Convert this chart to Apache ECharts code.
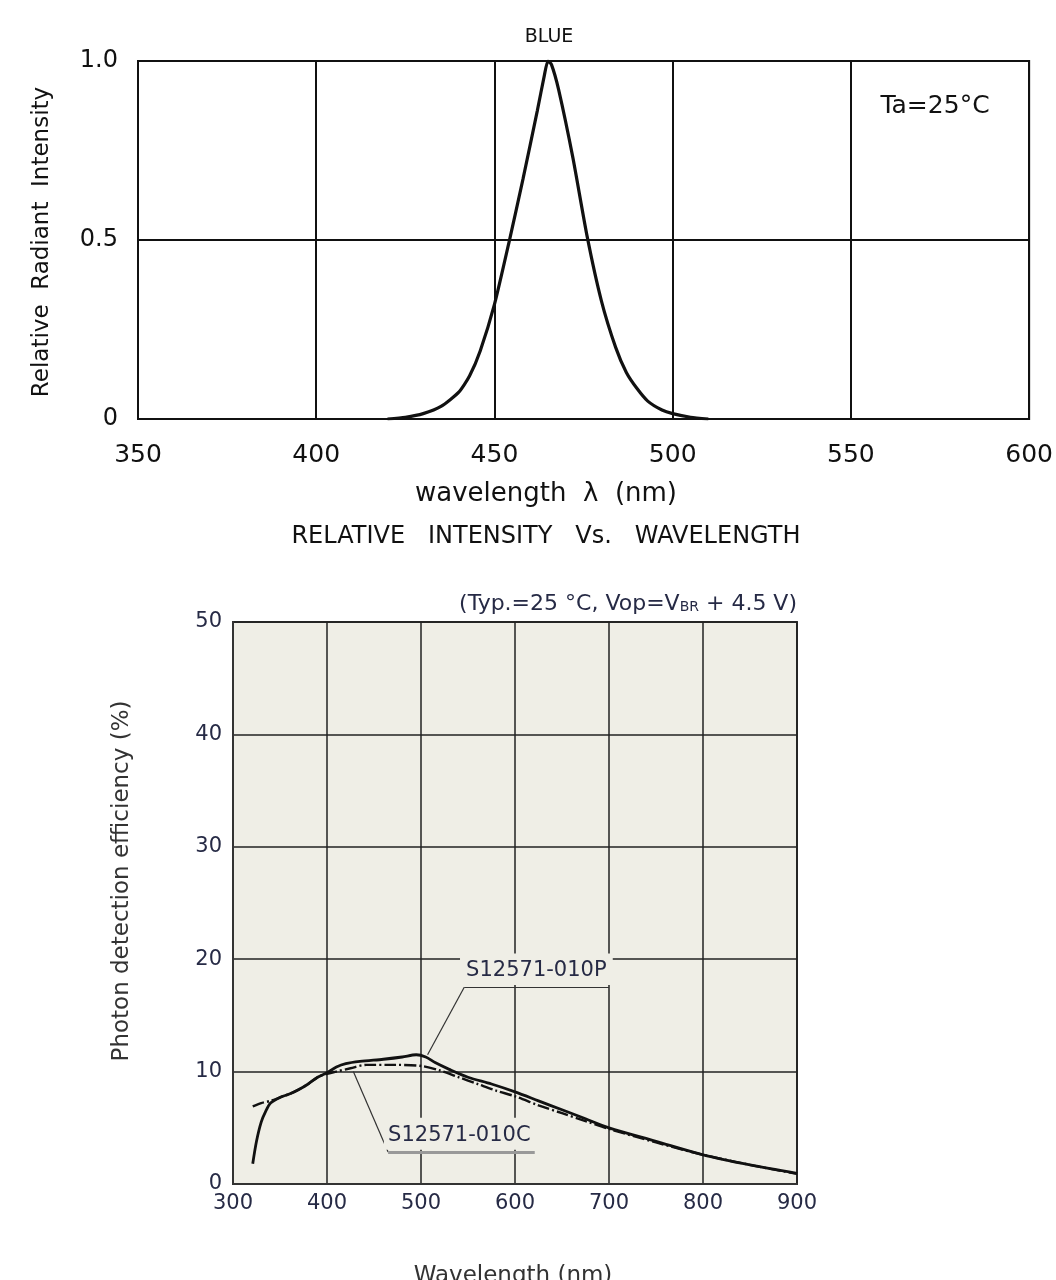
<!DOCTYPE html>
<html>
<head>
<meta charset="utf-8">
<script src="https://cdn.jsdelivr.net/npm/echarts@6/dist/echarts.min.js"></script>
<style>
  html, body { margin: 0; padding: 0; background: #ffffff; }
  #chart { width: 1056px; height: 1280px; }
</style>
</head>
<body>
<div id="chart"></div>
<script>
// Emission spectrum of the blue LED (wavelength nm, relative intensity)
const blueWavelength = [420, 425, 430, 435, 440, 443, 446, 450, 454, 458, 462, 464, 465, 466, 468, 472, 476, 480, 484, 487, 490, 493, 497, 500, 505, 510];
const blueIntensity  = [0, 0.005, 0.015, 0.035, 0.075, 0.12, 0.19, 0.32, 0.49, 0.67, 0.86, 0.96, 1.0, 0.99, 0.92, 0.73, 0.51, 0.33, 0.2, 0.13, 0.085, 0.05, 0.025, 0.015, 0.005, 0];

// Photon detection efficiency (%) of S12571-010P
const pdeWavelengthP = [321, 325, 330, 335, 340, 350, 360, 370, 380, 390, 400, 410, 420, 435, 460, 480, 495, 505, 515, 530, 550, 575, 600, 625, 650, 675, 700, 750, 800, 850, 900];
const pdeValuesP     = [1.8, 3.8, 5.5, 6.5, 7.2, 7.7, 8.0, 8.4, 8.9, 9.5, 9.9, 10.4, 10.7, 10.9, 11.1, 11.3, 11.5, 11.3, 10.8, 10.2, 9.5, 8.9, 8.2, 7.4, 6.6, 5.8, 5.0, 3.8, 2.6, 1.7, 0.95];

// Photon detection efficiency (%) of S12571-010C
const pdeWavelengthC = [321, 330, 340, 350, 360, 370, 380, 390, 400, 410, 425, 442, 470, 500, 520, 540, 560, 580, 600, 625, 650, 675, 700, 750, 800, 850, 900];
const pdeValuesC     = [6.9, 7.2, 7.4, 7.7, 8.0, 8.4, 8.9, 9.5, 9.8, 10.0, 10.3, 10.6, 10.6, 10.5, 10.1, 9.5, 8.9, 8.3, 7.8, 7.0, 6.3, 5.6, 4.9, 3.7, 2.6, 1.7, 0.9];

// Axis ticks
const blueXTicks = [350, 400, 450, 500, 550, 600];
const blueYTicks = ['0', '0.5', '1.0'];
const pdeXTicks = [300, 400, 500, 600, 700, 800, 900];
const pdeYTicks = [0, 10, 20, 30, 40, 50];

const pair = (xs, ys) => xs.map((x, i) => [x, ys[i]]);

const cadFont = "'DejaVu Sans', Verdana, sans-serif";
const sansFont = "'DejaVu Sans', Verdana, sans-serif";
const navy = '#262a45';
const plotBg = '#efeee6';

const chart = echarts.init(document.getElementById('chart'));

const option = {
  animation: false,
  backgroundColor: '#ffffff',
  grid: [
    { left: 138, top: 61, width: 892, height: 358, show: true, borderColor: '#111', borderWidth: 2, backgroundColor: '#ffffff' },
    { left: 233, top: 622, width: 564, height: 562, show: true, borderColor: '#333', borderWidth: 2, backgroundColor: plotBg }
  ],
  xAxis: [
    {
      gridIndex: 0, type: 'value',
      min: blueXTicks[0], max: blueXTicks[blueXTicks.length - 1], interval: 50,
      axisLine: { show: true, lineStyle: { color: '#111', width: 2 } },
      axisTick: { show: false },
      splitLine: { show: true, lineStyle: { color: '#111', width: 2 } },
      axisLabel: { color: '#111', fontSize: 25, fontFamily: cadFont, margin: 24 }
    },
    {
      gridIndex: 1, type: 'value',
      min: pdeXTicks[0], max: pdeXTicks[pdeXTicks.length - 1], interval: 100,
      axisLine: { show: true, lineStyle: { color: '#333', width: 2 } },
      axisTick: { show: false },
      splitLine: { show: true, lineStyle: { color: '#222', width: 1.5 } },
      axisLabel: { color: navy, fontSize: 21, fontFamily: sansFont, margin: 9 }
    }
  ],
  yAxis: [
    {
      gridIndex: 0, type: 'value',
      min: 0, max: 1, interval: 0.5,
      axisLine: { show: true, lineStyle: { color: '#111', width: 2 } },
      axisTick: { show: false },
      splitLine: { show: true, lineStyle: { color: '#111', width: 2 } },
      axisLabel: {
        color: '#111', fontSize: 24, fontFamily: cadFont, margin: 20,
        formatter: v => blueYTicks[Math.round(v * 2)]
      }
    },
    {
      gridIndex: 1, type: 'value',
      min: pdeYTicks[0], max: pdeYTicks[pdeYTicks.length - 1], interval: 10,
      axisLine: { show: true, lineStyle: { color: '#333', width: 2 } },
      axisTick: { show: false },
      splitLine: { show: true, lineStyle: { color: '#222', width: 1.5 } },
      axisLabel: { color: navy, fontSize: 21, fontFamily: sansFont, margin: 11 }
    }
  ],
  series: [
    {
      name: 'BLUE', type: 'line', xAxisIndex: 0, yAxisIndex: 0,
      data: pair(blueWavelength, blueIntensity),
      smooth: 0.2, showSymbol: false,
      lineStyle: { color: '#111', width: 3.2 }
    },
    {
      name: 'S12571-010P', type: 'line', xAxisIndex: 1, yAxisIndex: 1,
      data: pair(pdeWavelengthP, pdeValuesP),
      smooth: 0.3, showSymbol: false,
      lineStyle: { color: '#111', width: 2.8 },
      markLine: {
        silent: true, symbol: 'none', label: { show: false },
        lineStyle: { color: '#333', width: 1.2, type: 'solid' },
        data: [
          [{ coord: [507, 11.5] }, { coord: [546, 17.5] }],
          [{ coord: [546, 17.5] }, { coord: [700, 17.5] }]
        ]
      }
    },
    {
      name: 'S12571-010C', type: 'line', xAxisIndex: 1, yAxisIndex: 1,
      data: pair(pdeWavelengthC, pdeValuesC),
      smooth: 0.3, showSymbol: false,
      lineStyle: { color: '#111', width: 2.4, type: [12, 3, 2, 3] },
      markLine: {
        silent: true, symbol: 'none', label: { show: false },
        data: [
          [{ coord: [428, 10.0], lineStyle: { color: '#333', width: 1.2, type: 'solid' } },
           { coord: [465, 2.85] }],
          [{ coord: [465, 2.85], lineStyle: { color: '#999', width: 3, type: 'solid' } },
           { coord: [621, 2.85] }]
        ]
      }
    }
  ]
};

chart.setOption(option);

// Place annotation boxes from data coordinates of the lower chart
const px = (x, y) => chart.convertToPixel({ xAxisIndex: 1, yAxisIndex: 1 }, [x, y]);
const pBoxA = px(541.5, 20.5), pBoxB = px(704, 17.7);
const pText = px(548, 18.95);
const cBoxA = px(460.5, 5.9), cBoxB = px(622, 3.05);
const cText = px(465, 4.3);

chart.setOption({
  graphic: [
    // upper chart texts
    { type: 'text', z: 10, x: 549, y: 37, style: { text: 'BLUE', font: "19px " + cadFont, fill: '#111', align: 'center', verticalAlign: 'middle' } },
    { type: 'text', z: 10, x: 935, y: 106, style: { text: 'Ta=25°C', font: "25px " + cadFont, fill: '#111', align: 'center', verticalAlign: 'middle' } },
    { type: 'text', z: 10, x: 42, y: 242, rotation: Math.PI / 2,
      style: { text: 'Relative  Radiant  Intensity', font: "23px " + cadFont, fill: '#111', align: 'center', verticalAlign: 'middle' } },
    { type: 'text', z: 10, x: 546, y: 494, style: { text: 'wavelength  λ  (nm)', font: "26px " + cadFont, fill: '#111', align: 'center', verticalAlign: 'middle' } },
    { type: 'text', z: 10, x: 546, y: 537, style: { text: 'RELATIVE   INTENSITY   Vs.   WAVELENGTH', font: "24px " + cadFont, fill: '#111', align: 'center', verticalAlign: 'middle' } },

    // lower chart texts
    { type: 'text', z: 10, x: 797, y: 604,
      style: {
        text: '{a|(Typ.=25 °C, Vop=V}{s|BR}{a| + 4.5 V)}',
        align: 'right', verticalAlign: 'middle',
        rich: {
          a: { font: "22px " + sansFont, fill: navy },
          s: { font: "14px " + sansFont, fill: navy, padding: [6, 0, 0, 0] }
        }
      } },
    { type: 'text', z: 10, x: 122, y: 881, rotation: Math.PI / 2,
      style: { text: 'Photon detection efficiency (%)', font: "23px " + sansFont, fill: '#333', align: 'center', verticalAlign: 'middle' } },
    { type: 'text', z: 10, x: 513, y: 1276,
      style: { text: 'Wavelength (nm)', font: "23px " + sansFont, fill: '#333', align: 'center', verticalAlign: 'middle' } },

    // series name boxes
    { type: 'rect', z: 10, shape: { x: pBoxA[0], y: pBoxA[1], width: pBoxB[0] - pBoxA[0], height: pBoxB[1] - pBoxA[1] }, style: { fill: plotBg } },
    { type: 'text', z: 11, x: pText[0], y: pText[1], style: { text: 'S12571-010P', font: "21px " + sansFont, fill: navy, align: 'left', verticalAlign: 'middle' } },
    { type: 'rect', z: 10, shape: { x: cBoxA[0], y: cBoxA[1], width: cBoxB[0] - cBoxA[0], height: cBoxB[1] - cBoxA[1] }, style: { fill: plotBg } },
    { type: 'text', z: 11, x: cText[0], y: cText[1], style: { text: 'S12571-010C', font: "21px " + sansFont, fill: navy, align: 'left', verticalAlign: 'middle' } }
  ]
});
</script>
</body>
</html>
